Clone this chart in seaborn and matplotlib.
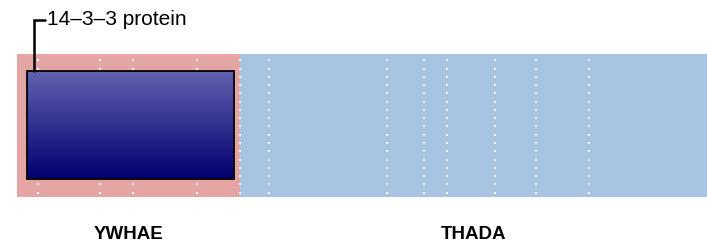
import numpy as np
import pandas as pd
import matplotlib.pyplot as plt
import seaborn as sns
from matplotlib.colors import LinearSegmentedColormap
from matplotlib.patches import Rectangle

# fusion partners (positions in fusion-protein units, left to right)
genes = ['YWHAE', 'THADA']
gene_start = [0, 223]
gene_end = [223, 690]
gene_colors = ['#e6a5a5', '#a8c4e3']

# exon boundaries
exon_pos = [21, 83, 116, 180, 223, 252, 370, 407, 430, 478, 519, 572]

# protein domains
domain_names = ['14\u20133\u20133 protein']
domain_start = [10]
domain_end = [217]

sns.set_theme(style='white')
plt.rcParams['font.family'] = ['Liberation Sans', 'DejaVu Sans']
plt.rcParams['text.color'] = 'black'

fig = plt.figure(figsize=(7.07, 2.47), dpi=100)
ax = fig.add_axes([17 / 707, 50.3 / 247, 690 / 707, 142.7 / 247])

# gene bands
seg = pd.DataFrame({'gene': genes, 'start': gene_start, 'end': gene_end, 'color': gene_colors})
ax.barh(0.5, seg['end'] - seg['start'], left=seg['start'], height=1.0,
        color=seg['color'], linewidth=0, zorder=1)

# exon boundaries as white dotted columns
dot_y = np.linspace(0.028, 0.956, 17)
dots = pd.DataFrame([(x, y) for x in exon_pos for y in dot_y], columns=['x', 'y'])
sns.scatterplot(data=dots, x='x', y='y', marker='s', s=2.2, color='white',
                linewidth=0, ax=ax, zorder=2)

# domains with vertical gradient
cmap = LinearSegmentedColormap.from_list('dom', ['#000070', '#6262b0'])
grad = np.linspace(0, 1, 256).reshape(-1, 1)
for name, s, e in zip(domain_names, domain_start, domain_end):
    ax.imshow(grad, cmap=cmap, origin='lower', aspect='auto',
              extent=[s, e, 0.124, 0.879], zorder=3)
    ax.add_patch(Rectangle((s, 0.124), e - s, 0.879 - 0.124, fill=False,
                           edgecolor='black', linewidth=1.3, zorder=4))
    # leader line + label
    lx = s + 7
    ax.plot([lx, lx, lx + 11], [0.879, 1.238, 1.238], color='black',
            linewidth=1.8, clip_on=False, solid_joinstyle='miter', zorder=5)
    ax.text(lx + 13, 1.24, name, fontsize=15, va='center', ha='left',
            color='black', clip_on=False)

# gene names
for g, s, e in zip(genes, gene_start, gene_end):
    ax.text((s + e) / 2, -0.268, g, fontsize=13.5, fontweight='bold',
            ha='center', va='center', color='black', clip_on=False)

ax.set_xlim(0, 690)
ax.set_ylim(0, 1)
ax.set_axis_off()

fig.savefig('out.png', dpi=100)
